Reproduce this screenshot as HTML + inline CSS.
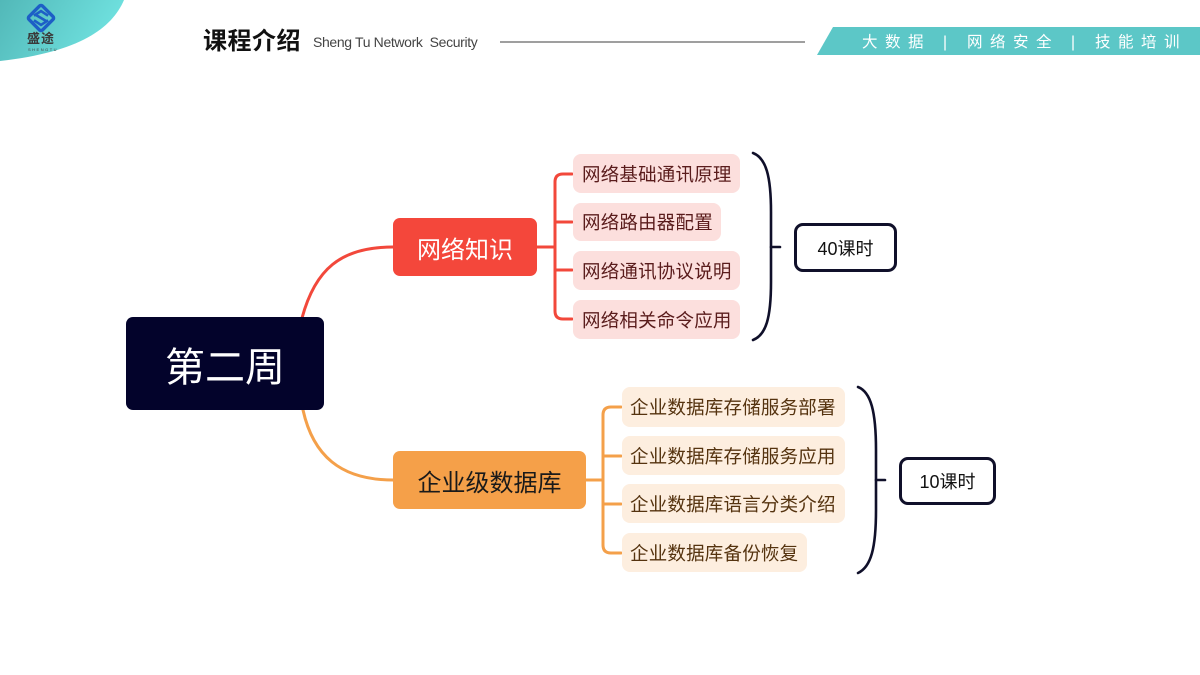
<!DOCTYPE html>
<html>
<head>
<meta charset="utf-8">
<style>
  html,body{margin:0;padding:0;}
  body{width:1200px;height:675px;position:relative;overflow:hidden;background:#fff;
    font-family:"Liberation Sans","Noto Sans CJK SC",sans-serif;}
  .abs{position:absolute;}
  .box{position:absolute;box-sizing:border-box;display:flex;align-items:center;white-space:nowrap;}
  .rl{background:#fcdfdd;color:#5a1c1c;border-radius:8px;font-size:18.5px;letter-spacing:0.2px;padding-left:9px;
      font-family:"Liberation Sans","Noto Sans CJK SC",sans-serif;}
  .ol{background:#fdeedf;color:#55330f;border-radius:8px;font-size:18.5px;letter-spacing:0.2px;padding-left:8px;
      font-family:"Liberation Sans","Noto Sans CJK SC",sans-serif;}
  .bn{position:absolute;top:33px;color:#fff;font-size:15.5px;letter-spacing:7.5px;line-height:20px;white-space:nowrap;
      font-family:"Liberation Sans","Noto Sans CJK SC",sans-serif;}
  .hrs{position:absolute;box-sizing:border-box;border:3px solid #10102a;border-radius:9px;background:#fff;
      display:flex;align-items:center;justify-content:center;font-size:18px;color:#111;
      font-family:"Liberation Sans","Noto Sans CJK SC",sans-serif;}
</style>
</head>
<body>

<svg class="abs" style="left:0;top:0" width="1200" height="675" viewBox="0 0 1200 675">
  <defs>
    <linearGradient id="tg" x1="0" y1="0" x2="1" y2="0.3">
      <stop offset="0" stop-color="#52b8b8"/>
      <stop offset="1" stop-color="#70e2e0"/>
    </linearGradient>
  </defs>
  <!-- top-left teal shape -->
  <path d="M0,0 H124 C112,28 80,52 0,61 Z" fill="url(#tg)"/>
  <!-- logo icon -->
  <g transform="translate(41,18) rotate(45)" fill="none" stroke="#1d5fc6" stroke-width="3.4">
    <rect x="-9.5" y="-9.5" width="19" height="19" rx="2"/>
  </g>
  <g fill="none" stroke="#1d5fc6" stroke-width="2.6" stroke-linecap="square">
    <path d="M35,15 L41,11 L47,15"/>
    <path d="M35,21 L41,25 L47,21"/>
    <path d="M36,15 L46,21"/>
  </g>
  <!-- header rule -->
  <line x1="500" y1="42" x2="805" y2="42" stroke="#666" stroke-width="1.2"/>
  <!-- banner -->
  <polygon points="833,27 1200,27 1200,55 817,55" fill="#5cc7c7"/>

  <!-- red connectors -->
  <g fill="none" stroke="#f2483b" stroke-width="3" stroke-linecap="round">
    <path d="M302,318 C315,270 340,247 393,247"/>
    <path d="M537,247 H555"/>
    <path d="M572,174 H563 Q555,174 555,182 V311 Q555,319 563,319 H572"/>
    <path d="M555,222 H572"/>
    <path d="M555,270 H572"/>
  </g>
  <!-- orange connectors -->
  <g fill="none" stroke="#f4a04a" stroke-width="3" stroke-linecap="round">
    <path d="M303,410 C313,455 340,480 393,480"/>
    <path d="M586,480 H603"/>
    <path d="M621,407 H611 Q603,407 603,415 V545 Q603,553 611,553 H621"/>
    <path d="M603,456 H621"/>
    <path d="M603,504 H621"/>
  </g>
  <!-- brackets -->
  <g fill="none" stroke="#10102a" stroke-width="2.6" stroke-linecap="round">
    <path d="M753,153 C766,158 771,176 771,212 L771,282 C771,318 766,335 753,340"/>
    <path d="M771,247 H780"/>
    <path d="M858,387 C871,392 876,412 876,450 L876,510 C876,548 871,567 858,573"/>
    <path d="M876,480 H885"/>
  </g>
</svg>

<!-- logo text -->
<div class="abs" style="left:27px;top:31px;font-size:13px;font-weight:bold;color:#3a3a3a;letter-spacing:1px;line-height:16px;font-family:'Liberation Sans','Noto Sans CJK SC',sans-serif;">盛途</div>
<div class="abs" style="left:28px;top:47px;font-size:4px;color:#444;letter-spacing:1.5px;line-height:5px;">SHENGTU</div>

<!-- header title -->
<div class="abs" style="left:203px;top:26px;font-size:24px;font-weight:bold;color:#111;line-height:32px;letter-spacing:0.5px;font-family:'Liberation Sans','Noto Sans CJK SC',sans-serif;">课程介绍</div>
<div class="abs" style="left:313px;top:33px;font-size:14px;color:#444;line-height:18px;white-space:nowrap;letter-spacing:-0.35px;">Sheng Tu Network&nbsp; Security</div>

<!-- banner text -->
<div class="bn" style="left:862px;">大数据</div>
<div class="bn" style="left:943px;letter-spacing:0;">|</div>
<div class="bn" style="left:967px;">网络安全</div>
<div class="bn" style="left:1071px;letter-spacing:0;">|</div>
<div class="bn" style="left:1095px;">技能培训</div>

<!-- central node -->
<div class="box" style="left:126px;top:317px;width:198px;height:93px;background:#03032b;border-radius:7px;justify-content:center;color:#fff;font-size:40px;">第二周</div>

<!-- red main -->
<div class="box" style="left:393px;top:218px;width:144px;height:58px;background:#f4473b;border-radius:7px;justify-content:center;color:#fff;font-size:24px;">网络知识</div>

<!-- red leaves -->
<div class="box rl" style="left:573px;top:154px;width:167px;height:39px;">网络基础通讯原理</div>
<div class="box rl" style="left:573px;top:203px;width:148px;height:38px;">网络路由器配置</div>
<div class="box rl" style="left:573px;top:251px;width:167px;height:39px;">网络通讯协议说明</div>
<div class="box rl" style="left:573px;top:300px;width:167px;height:39px;">网络相关命令应用</div>

<!-- orange main -->
<div class="box" style="left:393px;top:451px;width:193px;height:58px;background:#f5a049;border-radius:7px;justify-content:center;color:#1a1a1a;font-size:24px;">企业级数据库</div>

<!-- orange leaves -->
<div class="box ol" style="left:622px;top:387px;width:223px;height:40px;">企业数据库存储服务部署</div>
<div class="box ol" style="left:622px;top:436px;width:223px;height:39px;">企业数据库存储服务应用</div>
<div class="box ol" style="left:622px;top:484px;width:223px;height:39px;">企业数据库语言分类介绍</div>
<div class="box ol" style="left:622px;top:533px;width:185px;height:39px;">企业数据库备份恢复</div>

<!-- hour boxes -->
<div class="hrs" style="left:794px;top:223px;width:103px;height:49px;">40课时</div>
<div class="hrs" style="left:899px;top:457px;width:97px;height:48px;">10课时</div>

</body>
</html>
